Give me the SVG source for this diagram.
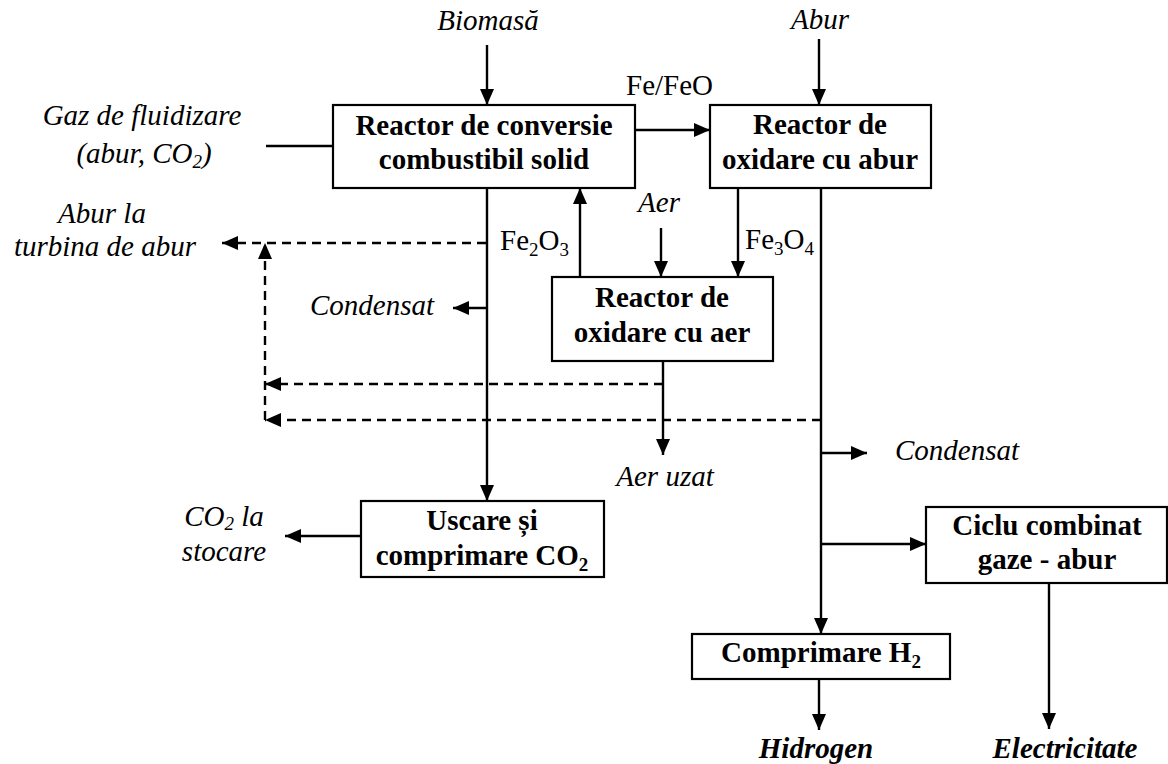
<svg xmlns="http://www.w3.org/2000/svg" width="1168" height="764" viewBox="0 0 1168 764">
<style>
text{font-family:"Liberation Serif","Times New Roman",Times,"DejaVu Serif",serif;font-size:29px;fill:#000}
.b{font-weight:bold}
.i{font-style:italic}
.bi{font-weight:bold;font-style:italic}
.m{text-anchor:middle}
.box{fill:#fff;stroke:#000;stroke-width:2.2}
.ln{fill:none;stroke:#000;stroke-width:2.4}
.ar{marker-end:url(#ah)}
.d{stroke-dasharray:9 6}
.sub{font-size:19px}
</style>
<defs>
<marker id="ah" markerUnits="userSpaceOnUse" markerWidth="16" markerHeight="14" refX="16" refY="7" orient="auto">
<path d="M0,0 L16,7 L0,14 z" fill="#000"/>
</marker>
</defs>
<g id="connectors">
<line class="ln ar" x1="487" y1="45" x2="487" y2="105"/>
<line class="ln ar" x1="819" y1="39" x2="819" y2="105"/>
<line class="ln" x1="266" y1="146" x2="333" y2="146"/>
<line class="ln ar" x1="635" y1="130" x2="710" y2="130"/>
<line class="ln ar" x1="487" y1="188" x2="487" y2="501"/>
<line class="ln d ar" x1="486" y1="243" x2="222" y2="243"/>
<line class="ln ar" x1="580" y1="277" x2="580" y2="188"/>
<line class="ln ar" x1="661" y1="228" x2="661" y2="277"/>
<line class="ln ar" x1="738" y1="188" x2="738" y2="277"/>
<line class="ln ar" x1="821" y1="188" x2="821" y2="634"/>
<line class="ln ar" x1="487" y1="308" x2="453" y2="308"/>
<line class="ln d ar" x1="663" y1="384" x2="265" y2="384"/>
<line class="ln d ar" x1="821" y1="420" x2="265" y2="420"/>
<line class="ln d ar" x1="265" y1="420" x2="265" y2="243"/>
<line class="ln ar" x1="663" y1="361" x2="663" y2="455"/>
<line class="ln ar" x1="821" y1="453" x2="867" y2="453"/>
<line class="ln ar" x1="821" y1="544" x2="926" y2="544"/>
<line class="ln ar" x1="361" y1="536" x2="285" y2="536"/>
<line class="ln ar" x1="819" y1="679" x2="819" y2="730"/>
<line class="ln ar" x1="1049" y1="583" x2="1049" y2="729"/>
</g>
<g id="reactor-conversie">
<rect class="box" x="333" y="105" width="302" height="83"/>
<text class="b m" x="484" y="135">Reactor de conversie</text>
<text class="b m" x="484" y="169">combustibil solid</text>
</g>
<g id="reactor-abur">
<rect class="box" x="710" y="105" width="221" height="83"/>
<text class="b m" x="820" y="134">Reactor de</text>
<text class="b m" x="820" y="169">oxidare cu abur</text>
</g>
<g id="reactor-aer">
<rect class="box" x="552" y="277" width="221" height="84"/>
<text class="b m" x="662" y="307">Reactor de</text>
<text class="b m" x="662" y="342">oxidare cu aer</text>
</g>
<g id="uscare">
<rect class="box" x="361" y="501" width="243" height="76"/>
<text class="b m" x="482" y="530">Uscare și</text>
<text class="b m" x="482" y="565">comprimare CO<tspan class="sub" dy="6">2</tspan></text>
</g>
<g id="ciclu">
<rect class="box" x="926" y="507" width="241" height="76"/>
<text class="b m" x="1047" y="535">Ciclu combinat</text>
<text class="b m" x="1047" y="569">gaze - abur</text>
</g>
<g id="comprimare-h2">
<rect class="box" x="692" y="634" width="258" height="45"/>
<text class="b m" x="821" y="662">Comprimare H<tspan class="sub" dy="6">2</tspan></text>
</g>
<g id="labels">
<text class="i m" x="488" y="30">Biomasă</text>
<text class="i m" x="820" y="29">Abur</text>
<text class="i m" x="142" y="125">Gaz de fluidizare</text>
<text class="i m" x="144" y="163">(abur, CO<tspan class="sub" dy="5">2</tspan><tspan dy="-5">)</tspan></text>
<text class="i m" x="102" y="223">Abur la</text>
<text class="i m" x="105" y="256">turbina de abur</text>
<text x="626" y="95">Fe/FeO</text>
<text x="500" y="250">Fe<tspan class="sub" dy="6">2</tspan><tspan dy="-6">O</tspan><tspan class="sub" dy="6">3</tspan></text>
<text x="745" y="249">Fe<tspan class="sub" dy="6">3</tspan><tspan dy="-6">O</tspan><tspan class="sub" dy="6">4</tspan></text>
<text class="i m" x="659" y="212">Aer</text>
<text class="i" x="310" y="315">Condensat</text>
<text class="i m" x="665" y="486">Aer uzat</text>
<text class="i" x="895" y="460">Condensat</text>
<text class="i m" x="224" y="526">CO<tspan class="sub" dy="4">2</tspan><tspan dy="-4"> la</tspan></text>
<text class="i m" x="224" y="561">stocare</text>
<text class="bi m" x="816" y="758">Hidrogen</text>
<text class="bi m" x="1065" y="758">Electricitate</text>
</g>
</svg>
